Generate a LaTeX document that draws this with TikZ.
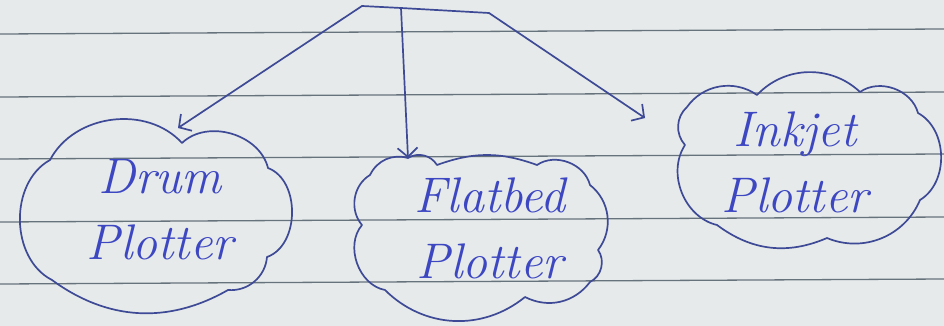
\documentclass[tikz,border=0pt]{standalone}
\usetikzlibrary{arrows.meta,calc}
\definecolor{paper}{HTML}{E6EAEA}
\definecolor{rule}{HTML}{66737C}
\definecolor{ink}{HTML}{3E4A96}
\definecolor{textink}{HTML}{3D47C2}
\tikzset{
  ruleline/.style={draw=rule,line width=1.3pt},
  inkline/.style={draw=ink,line width=1.7pt,line cap=round,line join=round},
  arr/.style={inkline,-{Straight Barb[length=9pt,width=20pt,line width=1.7pt]}},
  label/.style={align=center,text=textink,inner sep=0pt,
    font=\fontsize{50}{66}\selectfont\itshape}
}
\begin{document}
\begin{tikzpicture}[x=1pt,y=-1pt]
\useasboundingbox (0,0) rectangle (944,326);
\fill[paper] (0,0) rectangle (944,326);
% ruled lines
\foreach \yy in {34,97,159,222,284}{
  \draw[ruleline] (0,\yy) -- (944,\yy-5);
}
% labels
\node[label] (drum) at (160,210) {Drum\\Plotter};
\node[label] (flatbed) at (490,228) {Flatbed\\Plotter};
\node[label] (inkjet) at (795,162) {Inkjet\\Plotter};
% clouds
\draw[inkline] (50,160) to[bend left=55] (182,143) to[bend left=60] (268,168)
  to[bend left=70] (267,257) to[bend left=45] (228,290) to[bend left=33] (52,280)
  to[bend left=62] (50,160) -- cycle;
\draw[inkline] (408,158) to[bend left=45] (437,165) to[bend left=20] (537,165)
  to[bend left=55] (590,185) to[bend left=45] (598,250) to[bend left=50] (590,282)
  to[bend left=40] (525,297) to[bend left=42] (385,290) to[bend left=60] (362,225)
  to[bend left=50] (370,175) to[bend left=40] (408,158) -- cycle;
\draw[inkline] (687,107) to[bend left=45] (757,95) to[bend left=45] (860,92)
  to[bend left=55] (918,113) to[bend left=60] (920,200) to[bend left=45] (827,238)
  to[bend left=30] (717,225) to[bend left=55] (685,145) to[bend left=45] (687,107) -- cycle;
% arrow ends
\coordinate (drumtip) at (178,128);
\coordinate (flattip) at (408,158);
\coordinate (inktip) at (645,118);
% top connector
\coordinate (tl) at (362,6);
\coordinate (tm) at (401,8);
\coordinate (tr) at (489,13);
\draw[inkline] (tl) -- (tm) -- (tr);
\draw[arr] (tl) -- (drumtip);
\draw[arr] (tm) -- (flattip);
\draw[arr] (tr) -- (inktip);
\end{tikzpicture}
\end{document}
